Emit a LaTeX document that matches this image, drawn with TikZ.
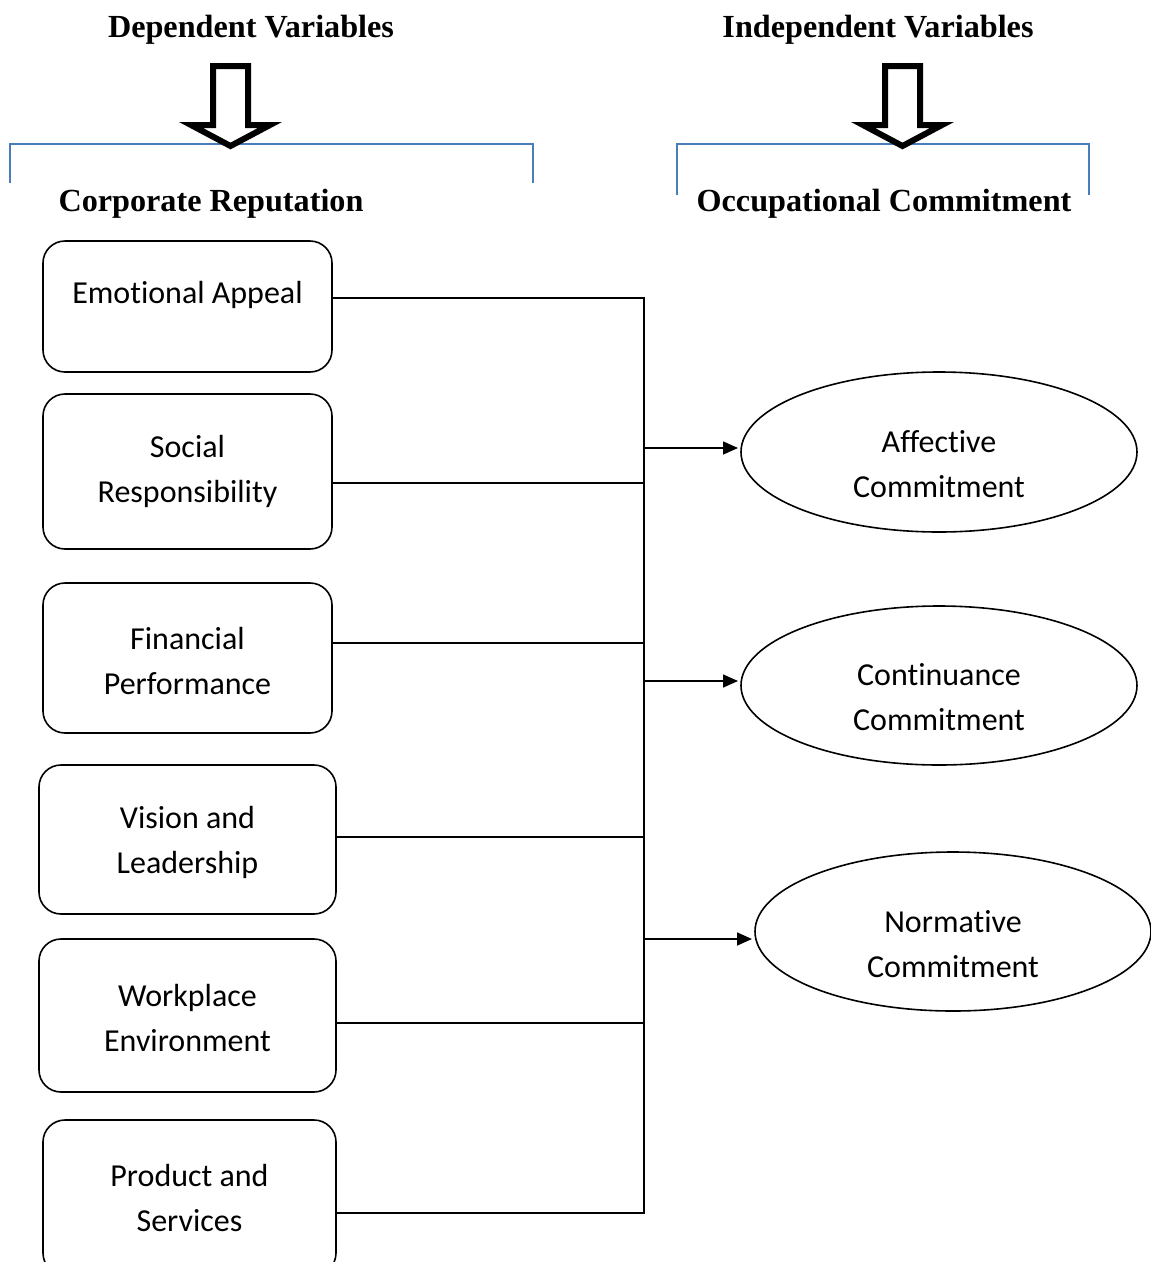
\documentclass[tikz,border=0pt]{standalone}
\usepackage{fontspec}
\setmainfont{Carlito}[Ligatures=NoCommon]
\newfontfamily\titlefont{Liberation Serif}
\usetikzlibrary{shapes.geometric,arrows.meta}
\definecolor{brk}{HTML}{4A7EBB}
\begin{document}
\begin{tikzpicture}[x=1pt,y=-1pt,
  box/.style={draw, line width=1.6pt, rounded corners=22pt, outer sep=0pt, inner sep=0pt},
  oval/.style={draw, ellipse, line width=1.6pt, outer sep=0pt, inner sep=0pt, minimum width=396pt},
  txt/.style={align=center, inner sep=0pt, font=\fontsize{32}{45}\selectfont},
  ttl/.style={inner sep=0pt, font=\titlefont\bfseries\fontsize{32.2}{36}\selectfont},
  conn/.style={draw, line width=1.6pt},
  arr/.style={conn, -{Triangle[length=15pt,width=13pt]}, shorten >=3pt},
  bigarrow/.style={draw, line width=6pt, fill=white, miter limit=10},
  bracket/.style={draw=brk, line width=1.6pt}]
\useasboundingbox (0,0) rectangle (1151,1262);
\clip (0,0) rectangle (1151,1262);

% titles
\node[ttl] (dv) at (251,30) {Dependent Variables};
\node[ttl] (iv) at (878,30) {Independent Variables};
\node[ttl] (cr) at (211,204) {Corporate Reputation};
\node[ttl] (oc) at (884,204) {Occupational Commitment};

% brackets
\draw[bracket] (10,183) -- (10,144) -- (533,144) -- (533,183);
\draw[bracket] (677,195) -- (677,144) -- (1089,144) -- (1089,195);

% hollow arrows
\draw[bigarrow] (213,66) -- (248,66) -- (248,125) -- (270,125) -- (230.5,146) -- (191,125) -- (213,125) -- cycle;
\draw[bigarrow] (885,66) -- (920,66) -- (920,125) -- (942,125) -- (902.5,146) -- (863,125) -- (885,125) -- cycle;

% boxes
\node[box, minimum width=289pt, minimum height=131pt] (ea) at (187.5,306.5) {};
\node[box, minimum width=289pt, minimum height=155pt] (sr) at (187.5,471.5) {};
\node[box, minimum width=289pt, minimum height=150pt] (fp) at (187.5,658) {};
\node[box, minimum width=297pt, minimum height=149pt] (vl) at (187.5,839.5) {};
\node[box, minimum width=297pt, minimum height=153pt] (we) at (187.5,1015.5) {};
\node[box, minimum width=293pt, minimum height=155pt] (ps) at (189.5,1197.5) {};

\node[txt] (eat) at (187.5,295) {Emotional Appeal};
\node[txt] (srt) at (187.5,471.5) {Social\\Responsibility};
\node[txt] (fpt) at (187.5,660.5) {Financial\\Performance};
\node[txt] (vlt) at (187.5,842.5) {Vision and\\Leadership};
\node[txt] (wet) at (187.5,1017.5) {Workplace\\Environment};
\node[txt] (pst) at (189.5,1197.5) {Product and\\Services};

% ellipses
\node[oval, minimum height=160pt] (ac) at (939,452) {};
\node[oval, minimum height=159pt] (cc) at (939,685.5) {};
\node[oval, minimum height=159pt] (nc) at (953,931.5) {};
\node[txt] (act) at (939,464.5) {Affective\\Commitment};
\node[txt] (cct) at (939,697.5) {Continuance\\Commitment};
\node[txt] (nct) at (953,944.5) {Normative\\Commitment};

% junction coordinates
\coordinate (j1) at (644,298);
\coordinate (j2) at (644,483);
\coordinate (j3) at (644,643);
\coordinate (j4) at (644,837);
\coordinate (j5) at (644,1023);
\coordinate (j6) at (644,1213);
\coordinate (a1) at (644,448);
\coordinate (a2) at (644,681);
\coordinate (a3) at (644,939);

% connectors
\draw[conn] (ea.east |- j1) -- (j1) -- (j6) -- (ps.east |- j6);
\draw[conn] (sr.east |- j2) -- (j2);
\draw[conn] (fp.east |- j3) -- (j3);
\draw[conn] (vl.east |- j4) -- (j4);
\draw[conn] (we.east |- j5) -- (j5);

\draw[arr] (a1) -- (ac.west |- a1);
\draw[arr] (a2) -- (cc.west |- a2);
\draw[arr] (a3) -- (nc.west |- a3);
\end{tikzpicture}
\end{document}
